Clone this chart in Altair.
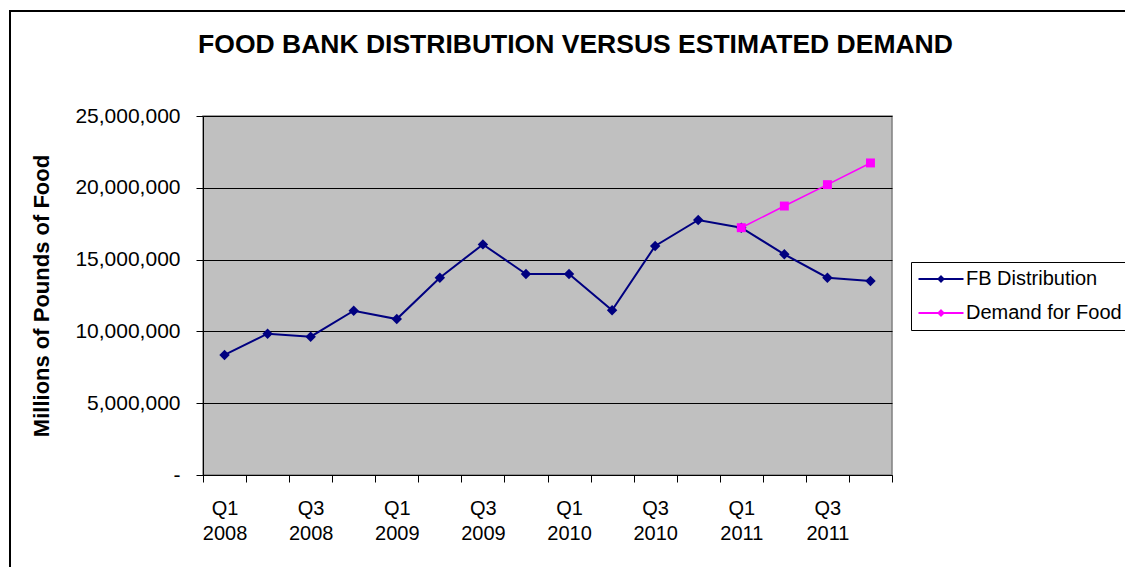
import altair as alt
import pandas as pd

# ---- data ----
quarters = ["Q1 2008", "Q2 2008", "Q3 2008", "Q4 2008",
            "Q1 2009", "Q2 2009", "Q3 2009", "Q4 2009",
            "Q1 2010", "Q2 2010", "Q3 2010", "Q4 2010",
            "Q1 2011", "Q2 2011", "Q3 2011", "Q4 2011"]
fb_distribution = [8360000, 9840000, 9630000, 11440000,
                   10860000, 13740000, 16060000, 14000000,
                   14000000, 11470000, 15950000, 17760000,
                   17220000, 15370000, 13740000, 13510000]
demand_quarters = ["Q1 2011", "Q2 2011", "Q3 2011", "Q4 2011"]
demand_for_food = [17220000, 18730000, 20220000, 21730000]
series_names = ["FB Distribution", "Demand for Food"]
series_colors = ["#000080", "#FF00FF"]
y_ticks = [0, 5000000, 10000000, 15000000, 20000000, 25000000]

rows = []
for q, v in zip(quarters, fb_distribution):
    rows.append({"quarter": q, "value": v, "series": series_names[0]})
for q, v in zip(demand_quarters, demand_for_food):
    rows.append({"quarter": q, "value": v, "series": series_names[1]})
df = pd.DataFrame(rows)

FONT = "Liberation Sans"

x_enc = alt.X(
    "quarter:N",
    sort=quarters,
    scale=alt.Scale(type="band", domain=quarters, paddingInner=0, paddingOuter=0),
    axis=alt.Axis(
        title=None,
        tickBand="extent",
        labelExpr="(indexof(['Q1','Q3'], substring(datum.value,0,2)) >= 0) ? split(datum.value,' ') : ''",
        labelAngle=0,
        labelFont=FONT,
        labelFontSize=20,
        labelColor="#000000",
        labelPadding=16,
        labelLineHeight=25,
        labelOverlap=False,
        tickSize=7,
        tickColor="#000000",
        domainColor="#000000",
        grid=False,
    ),
)

y_enc = alt.Y(
    "value:Q",
    scale=alt.Scale(domain=[0, 25000000], nice=False),
    axis=alt.Axis(
        values=y_ticks,
        title="Millions of Pounds of Food",
        titleFont=FONT,
        titleFontSize=22,
        titleFontWeight="bold",
        titleColor="#000000",
        titlePadding=21,
        labelExpr="datum.value == 0 ? '-' : format(datum.value, ',')",
        labelFont=FONT,
        labelFontSize=21,
        labelColor="#000000",
        labelPadding=16,
        tickSize=7,
        tickColor="#000000",
        domainColor="#000000",
        grid=True,
        gridColor="#000000",
        gridOpacity=1,
    ),
)

color_scale = alt.Scale(domain=series_names, range=series_colors)

# legend symbol: short line with a small marker in the middle
legend_path = "M-4.5,0L4.5,0M0,-0.5L0.5,0L0,0.5L-0.5,0Z"

legend = alt.Legend(
    title=None,
    orient="none",
    legendX=708,
    legendY=146,
    padding=7,
    strokeColor="#000000",
    fillColor="#FFFFFF",
    labelFont=FONT,
    labelFontSize=20,
    labelColor="#000000",
    symbolType=legend_path,
    symbolSize=100,
    symbolStrokeWidth=2,
    symbolOffset=13,
    labelOffset=15,
    rowPadding=14,
)

base = alt.Chart(df)

fb_line = base.transform_filter(alt.datum.series == series_names[0]).mark_line(strokeWidth=2).encode(
    x=x_enc, y=y_enc,
    color=alt.Color("series:N", scale=color_scale, legend=legend),
)
dem_line = base.transform_filter(alt.datum.series == series_names[1]).mark_line(strokeWidth=1.5).encode(
    x=x_enc, y=y_enc,
    color=alt.Color("series:N", scale=color_scale, legend=legend),
)

fb_points = base.transform_filter(alt.datum.series == series_names[0]).mark_point(
    filled=True, opacity=1, shape="diamond", size=110
).encode(
    x=x_enc, y=y_enc,
    color=alt.Color("series:N", scale=color_scale, legend=legend),
)

dem_points = base.transform_filter(alt.datum.series == series_names[1]).mark_point(
    filled=True, opacity=1, shape="square", size=80
).encode(
    x=x_enc, y=y_enc,
    color=alt.Color("series:N", scale=color_scale, legend=legend),
)

frame = alt.Chart(pd.DataFrame({"f": [0]})).mark_rect(
    fillOpacity=0, stroke="#000000", strokeWidth=2
).encode(
    x=alt.value(-193), x2=alt.value(1000),
    y=alt.value(-105), y2=alt.value(600),
)

chart = alt.layer(frame, fb_line, dem_line, fb_points, dem_points).properties(
    width=689,
    height=359,
    autosize=alt.AutoSizeParams(type="none"),
    padding={"left": 195, "top": 108, "right": 233, "bottom": 92},
    background="#FFFFFF",
    title=alt.TitleParams(
        text="FOOD BANK DISTRIBUTION VERSUS ESTIMATED DEMAND",
        font=FONT,
        fontSize=26.5,
        fontWeight="bold",
        color="#000000",
        anchor="middle",
        dx=28,
        dy=88,
        offset=40,
    ),
).configure_view(
    fill="#C0C0C0",
    stroke="#808080",
    strokeWidth=1.5,
)

chart.save("out.html", embed_options={"renderer": "svg", "actions": False})
